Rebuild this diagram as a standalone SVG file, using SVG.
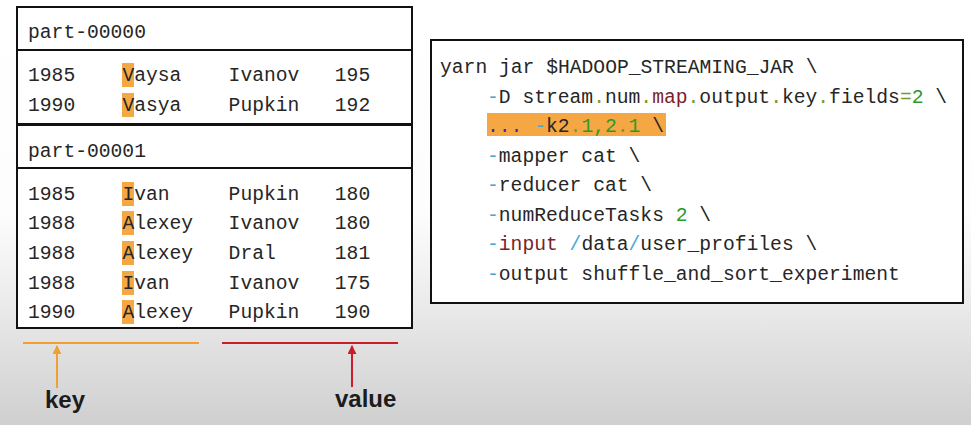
<svg xmlns="http://www.w3.org/2000/svg" width="971" height="425" viewBox="0 0 971 425">
<defs>
<linearGradient id="bg" x1="0" y1="0" x2="0" y2="1">
<stop offset="0" stop-color="#ffffff"/>
<stop offset="0.5" stop-color="#fdfdfd"/>
<stop offset="0.7" stop-color="#ececec"/>
<stop offset="1" stop-color="#cfcfcf"/>
</linearGradient>
<marker id="arrO" viewBox="0 0 10 10" refX="9" refY="5" markerWidth="4.5" markerHeight="4.5" orient="auto" markerUnits="strokeWidth">
<path d="M0,0 L10,5 L0,10 z" fill="#f0a030"/>
</marker>
<marker id="arrR" viewBox="0 0 10 10" refX="9" refY="5" markerWidth="4.5" markerHeight="4.5" orient="auto" markerUnits="strokeWidth">
<path d="M0,0 L10,5 L0,10 z" fill="#c81e2a"/>
</marker>
</defs>
<style>
.box{fill:#ffffff;stroke:#111;stroke-width:2}
.sep{stroke:#111;stroke-width:2}
.mono{font-family:"Liberation Mono","DejaVu Sans Mono",monospace;font-size:19.66px;fill:#262626}
.hl{fill:#f5a743}
.lbl{font-family:"Liberation Sans",Arial,sans-serif;font-weight:bold;font-size:24px;fill:#1c1c1c}
.b{fill:#4aa8d8}
.o{fill:#7a9a2a}
.m{fill:#7a1f2b}
.g{fill:#2a9a2a}
.p{fill:#3030c8}
</style>
<rect x="0" y="0" width="971" height="425" fill="url(#bg)"/>

<g id="table-part-00000">
<rect class="box" x="17" y="7" width="395" height="117"/>
<line class="sep" x1="17" y1="50" x2="412" y2="50"/>
<text class="mono" x="28" y="38">part-00000</text>
<rect class="hl" x="122" y="63" width="12" height="24"/>
<rect class="hl" x="122" y="93" width="12" height="24"/>
<text class="mono" y="81"><tspan x="28">1985</tspan><tspan x="122.4">Vaysa</tspan><tspan x="228.6">Ivanov</tspan><tspan x="334.8">195</tspan></text>
<text class="mono" y="111"><tspan x="28">1990</tspan><tspan x="122.4">Vasya</tspan><tspan x="228.6">Pupkin</tspan><tspan x="334.8">192</tspan></text>
</g>

<g id="table-part-00001">
<rect class="box" x="17" y="125" width="395" height="203"/>
<line class="sep" x1="17" y1="168" x2="412" y2="168"/>
<text class="mono" x="28" y="157">part-00001</text>
<rect class="hl" x="122" y="182" width="12" height="24"/>
<rect class="hl" x="122" y="211" width="12" height="24"/>
<rect class="hl" x="122" y="241" width="12" height="24"/>
<rect class="hl" x="122" y="271" width="12" height="24"/>
<rect class="hl" x="122" y="300" width="12" height="24"/>
<text class="mono" y="200"><tspan x="28">1985</tspan><tspan x="122.4">Ivan</tspan><tspan x="228.6">Pupkin</tspan><tspan x="334.8">180</tspan></text>
<text class="mono" y="229"><tspan x="28">1988</tspan><tspan x="122.4">Alexey</tspan><tspan x="228.6">Ivanov</tspan><tspan x="334.8">180</tspan></text>
<text class="mono" y="259"><tspan x="28">1988</tspan><tspan x="122.4">Alexey</tspan><tspan x="228.6">Dral</tspan><tspan x="334.8">181</tspan></text>
<text class="mono" y="289"><tspan x="28">1988</tspan><tspan x="122.4">Ivan</tspan><tspan x="228.6">Ivanov</tspan><tspan x="334.8">175</tspan></text>
<text class="mono" y="318"><tspan x="28">1990</tspan><tspan x="122.4">Alexey</tspan><tspan x="228.6">Pupkin</tspan><tspan x="334.8">190</tspan></text>
</g>

<g id="command">
<rect class="box" x="431" y="40" width="532" height="263"/>
<rect class="hl" x="487" y="113" width="179" height="23"/>
<text class="mono" xml:space="preserve" x="440" y="73">yarn jar $HADOOP_STREAMING_JAR \</text>
<text class="mono" xml:space="preserve" x="487" y="103"><tspan class="b">-</tspan>D stream<tspan class="o">.</tspan>num<tspan class="o">.</tspan><tspan class="m">map</tspan><tspan class="o">.</tspan>output<tspan class="o">.</tspan>key<tspan class="o">.</tspan>fields<tspan class="o">=</tspan><tspan class="g">2</tspan> \</text>
<text class="mono" xml:space="preserve" x="487" y="132"><tspan class="p">...</tspan> <tspan class="b">-</tspan>k2<tspan class="o">.</tspan><tspan class="g">1,2</tspan><tspan class="o">.</tspan><tspan class="g">1</tspan> \</text>
<text class="mono" xml:space="preserve" x="487" y="162"><tspan class="b">-</tspan>mapper cat \</text>
<text class="mono" xml:space="preserve" x="487" y="191"><tspan class="b">-</tspan>reducer cat \</text>
<text class="mono" xml:space="preserve" x="487" y="221"><tspan class="b">-</tspan>numReduceTasks <tspan class="g">2</tspan> \</text>
<text class="mono" xml:space="preserve" x="487" y="250"><tspan class="b">-</tspan><tspan class="m">input</tspan> <tspan class="b">/</tspan>data<tspan class="b">/</tspan>user_profiles \</text>
<text class="mono" xml:space="preserve" x="487" y="280"><tspan class="b">-</tspan>output shuffle_and_sort_experiment</text>
</g>

<g id="connectors">
<line x1="23" y1="343" x2="199" y2="343" stroke="#f0a030" stroke-width="2"/>
<line x1="57" y1="388" x2="57" y2="346" stroke="#f0a030" stroke-width="2" marker-end="url(#arrO)"/>
<line x1="222" y1="343" x2="398" y2="343" stroke="#c81e2a" stroke-width="2"/>
<line x1="352" y1="387" x2="352" y2="346" stroke="#c81e2a" stroke-width="2" marker-end="url(#arrR)"/>
</g>

<g id="label-key">
<text class="lbl" x="45" y="408">key</text>
</g>
<g id="label-value">
<text class="lbl" x="335" y="407">value</text>
</g>
</svg>
